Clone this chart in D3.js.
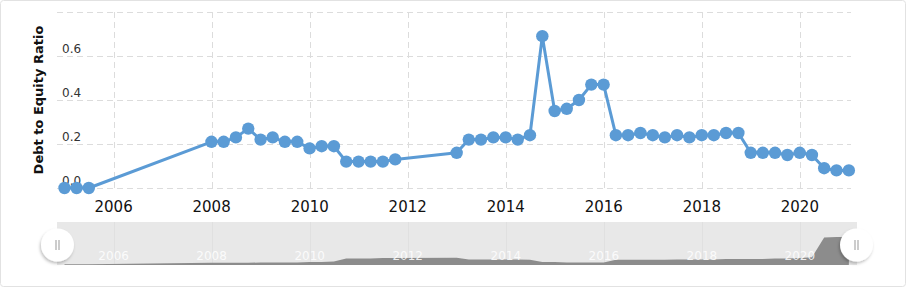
<!DOCTYPE html>
<html>
<meta charset="utf-8">
<style>
    body {
        margin: 0;
        background: #fff;
        font-family: "DejaVu Sans", Verdana, sans-serif;
    }
    .grid line {
        stroke: #dcdcdc;
        stroke-width: 1;
        stroke-dasharray: 6, 4;
        shape-rendering: crispEdges;
    }
    .grid path { display: none; }
</style>
<body>
<script src="https://d3js.org/d3.v7.min.js"></script>
<script>

    // quarter-end dates and debt to equity ratio
    var dates = [
        "2004-12-31", "2005-03-31", "2005-06-30",
        "2007-12-31", "2008-03-31", "2008-06-30", "2008-09-30", "2008-12-31",
        "2009-03-31", "2009-06-30", "2009-09-30", "2009-12-31",
        "2010-03-31", "2010-06-30", "2010-09-30", "2010-12-31",
        "2011-03-31", "2011-06-30", "2011-09-30",
        "2012-12-31", "2013-03-31", "2013-06-30", "2013-09-30", "2013-12-31",
        "2014-03-31", "2014-06-30", "2014-09-30", "2014-12-31",
        "2015-03-31", "2015-06-30", "2015-09-30", "2015-12-31",
        "2016-03-31", "2016-06-30", "2016-09-30", "2016-12-31",
        "2017-03-31", "2017-06-30", "2017-09-30", "2017-12-31",
        "2018-03-31", "2018-06-30", "2018-09-30", "2018-12-31",
        "2019-03-31", "2019-06-30", "2019-09-30", "2019-12-31",
        "2020-03-31", "2020-06-30", "2020-09-30", "2020-12-31"
    ];
    var ratios = [
        0.00, 0.00, 0.00,
        0.21, 0.21, 0.23, 0.27, 0.22,
        0.23, 0.21, 0.21, 0.18,
        0.19, 0.19, 0.12, 0.12,
        0.12, 0.12, 0.13,
        0.16, 0.22, 0.22, 0.23, 0.23,
        0.22, 0.24, 0.69, 0.35,
        0.36, 0.40, 0.47, 0.47,
        0.24, 0.24, 0.25, 0.24,
        0.23, 0.24, 0.23, 0.24,
        0.24, 0.25, 0.25, 0.16,
        0.16, 0.16, 0.15, 0.16,
        0.15, 0.09, 0.08, 0.08
    ];
    // navigator series (relative height of the grey area)
    var navValues = [
        0.02, 0.02, 0.02,
        0.05, 0.05, 0.05, 0.05, 0.06,
        0.06, 0.06, 0.06, 0.07,
        0.07, 0.08, 0.15, 0.15,
        0.15, 0.16, 0.16,
        0.17, 0.13, 0.13, 0.13, 0.13,
        0.13, 0.12, 0.07, 0.07,
        0.06, 0.06, 0.06, 0.06,
        0.12, 0.12, 0.12, 0.12,
        0.12, 0.13, 0.13, 0.13,
        0.13, 0.14, 0.14, 0.14,
        0.14, 0.15, 0.15, 0.16,
        0.18, 0.64, 0.65, 0.65
    ];
    var yTicks = [0, 0.2, 0.4, 0.6, 0.8];
    var yLabels = ["0.0", "0.2", "0.4", "0.6", ""];
    var xTickYears = [2006, 2008, 2010, 2012, 2014, 2016, 2018, 2020];
    var yTitle = "Debt to Equity Ratio";

    var parse = d3.timeParse("%Y-%m-%d");
    var data = dates.map(function(d, i) {
        return {date: parse(d), value: ratios[i], nav: navValues[i]};
    });

    var W = 907, H = 289;
    var plot = {left: 57, right: 851, top: 12, bottom: 188};

    var svg = d3.select("body")
        .append("svg")
        .attr("width", W)
        .attr("height", H);

    svg.append("rect")
        .attr("x", 0.5).attr("y", 0.5)
        .attr("width", 905).attr("height", 286)
        .attr("rx", 3)
        .attr("fill", "#fff")
        .attr("stroke", "#e2e2e2");

    var x = d3.scaleTime()
        .domain([new Date(2004, 10, 5), new Date(2021, 0, 16)])
        .range([plot.left, plot.right]);

    var y = d3.scaleLinear()
        .domain([0, 0.8])
        .range([plot.bottom, plot.top]);

    var xTicks = xTickYears.map(function(yr) { return new Date(yr, 0, 1); });

    // horizontal grid
    svg.append("g")
        .attr("class", "grid")
        .attr("transform", "translate(" + plot.left + ",0)")
        .call(d3.axisLeft(y).tickValues(yTicks)
            .tickSize(-(plot.right - plot.left)).tickFormat(""));

    // vertical grid
    svg.append("g")
        .attr("class", "grid")
        .attr("transform", "translate(0," + plot.bottom + ")")
        .call(d3.axisBottom(x).tickValues(xTicks)
            .tickSize(-(plot.bottom - plot.top)).tickFormat(""));

    // y labels sit above their grid line
    svg.append("g")
        .selectAll("text")
        .data(yTicks)
        .enter()
        .append("text")
        .attr("x", 62)
        .attr("y", function(d) { return y(d) - 3; })
        .attr("font-size", 12)
        .attr("fill", "#333")
        .text(function(d, i) { return yLabels[i]; });

    // x labels
    svg.append("g")
        .selectAll("text")
        .data(xTicks)
        .enter()
        .append("text")
        .attr("x", function(d) { return x(d); })
        .attr("y", 211.5)
        .attr("text-anchor", "middle")
        .attr("font-size", 15)
        .attr("fill", "#111")
        .text(function(d) { return d.getFullYear(); });

    svg.append("text")
        .attr("transform", "translate(43,100) rotate(-90)")
        .attr("text-anchor", "middle")
        .attr("font-size", 13)
        .attr("font-weight", "bold")
        .attr("fill", "#111")
        .text(yTitle);

    var line = d3.line()
        .x(function(d) { return x(d.date); })
        .y(function(d) { return y(d.value); });

    svg.append("path")
        .datum(data)
        .attr("d", line)
        .attr("fill", "none")
        .attr("stroke", "#5b9bd5")
        .attr("stroke-width", 3)
        .attr("stroke-linejoin", "round");

    svg.append("g")
        .selectAll("circle")
        .data(data)
        .enter()
        .append("circle")
        .attr("cx", function(d) { return x(d.date); })
        .attr("cy", function(d) { return y(d.value); })
        .attr("r", 6.2)
        .attr("fill", "#5b9bd5");

    // navigator
    var nav = {left: 57, right: 857, top: 222, bottom: 265};
    var ny = d3.scaleLinear().domain([0, 1]).range([nav.bottom, nav.top]);

    svg.append("rect")
        .attr("x", nav.left).attr("y", nav.top)
        .attr("width", nav.right - nav.left)
        .attr("height", nav.bottom - nav.top)
        .attr("fill", "#e8e8e8");

    svg.append("g")
        .selectAll("line")
        .data(xTicks)
        .enter()
        .append("line")
        .attr("x1", function(d) { return Math.round(x(d)) + 0.5; })
        .attr("x2", function(d) { return Math.round(x(d)) + 0.5; })
        .attr("y1", nav.top).attr("y2", nav.bottom)
        .attr("stroke", "#e0e0e0");

    var area = d3.area()
        .x(function(d) { return x(d.date); })
        .y0(nav.bottom)
        .y1(function(d) { return ny(d.nav); });

    svg.append("path")
        .datum(data)
        .attr("d", area)
        .attr("fill", "#8c8c8c");

    svg.append("g")
        .selectAll("text")
        .data(xTicks)
        .enter()
        .append("text")
        .attr("x", function(d) { return x(d); })
        .attr("y", 260)
        .attr("text-anchor", "middle")
        .attr("font-size", 12)
        .attr("fill", "#fff")
        .attr("fill-opacity", 0.85)
        .text(function(d) { return d.getFullYear(); });

    var defs = svg.append("defs");
    var f = defs.append("filter").attr("id", "shadow")
        .attr("x", "-50%").attr("y", "-50%").attr("width", "200%").attr("height", "200%");
    f.append("feDropShadow")
        .attr("dx", -1).attr("dy", 2).attr("stdDeviation", 1.5)
        .attr("flood-color", "#000").attr("flood-opacity", 0.25);

    var handles = svg.append("g")
        .selectAll("g")
        .data([57.5, 856.5])
        .enter()
        .append("g")
        .attr("transform", function(d) { return "translate(" + d + ",245)"; });

    handles.append("circle")
        .attr("r", 16.5)
        .attr("fill", "#fff")
        .attr("filter", "url(#shadow)");

    handles.selectAll("line")
        .data([-1.5, 1.5])
        .enter()
        .append("line")
        .attr("x1", function(d) { return d; })
        .attr("x2", function(d) { return d; })
        .attr("y1", -5).attr("y2", 5)
        .attr("stroke", "#999")
        .attr("stroke-width", 1);

</script>
</html>
